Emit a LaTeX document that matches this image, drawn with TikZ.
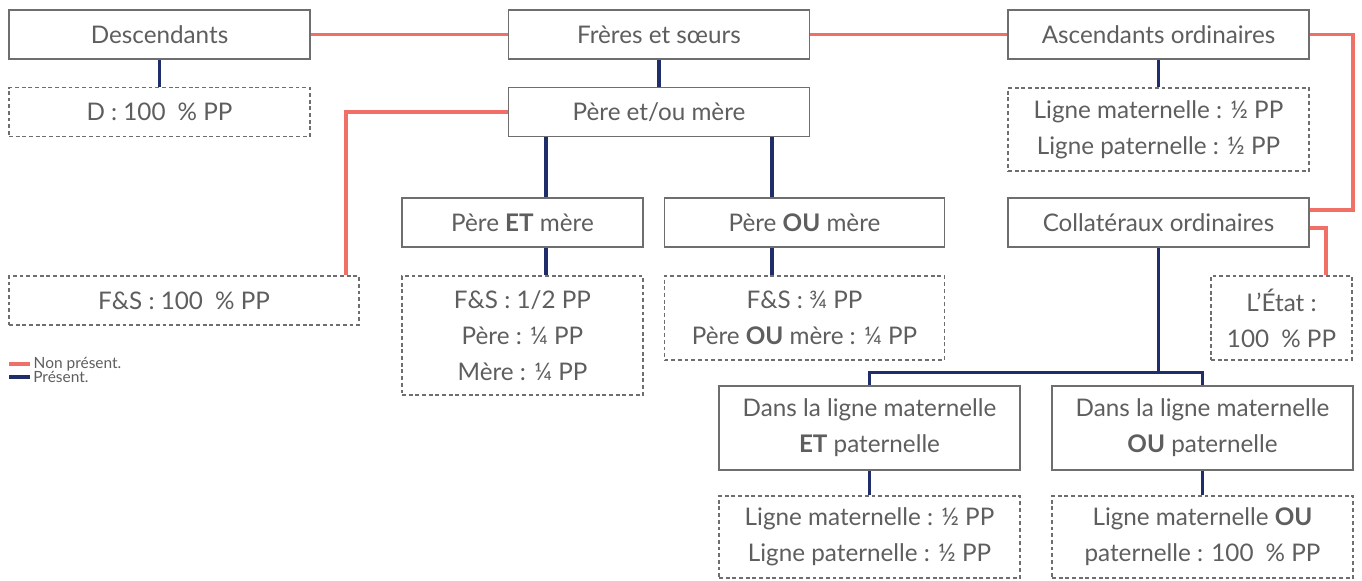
\documentclass[tikz,border=0pt]{standalone}
\usepackage{fontspec}
\setmainfont{Lato}
\usepackage{xcolor}
\usetikzlibrary{calc}
\definecolor{absentred}{HTML}{F07068}
\definecolor{presentblue}{HTML}{1F2D6B}
\definecolor{boxgray}{HTML}{6E6E6E}
\definecolor{textgray}{HTML}{5E5E5E}
\tikzset{
  box/.style={draw=boxgray, line width=0.8pt, fill=white, text=textgray, align=center,
    minimum width=6.02cm, minimum height=0.98cm, inner sep=0pt,
    font=\fontsize{13.8}{20.6}\selectfont},
  resbox/.style={box, dashed, dash pattern=on 2.2pt off 1.6pt},
  absent/.style={draw=absentred, line width=2.2pt},
  present/.style={draw=presentblue, line width=1.8pt},
  legend/.style={right, inner sep=1pt, text=textgray, font=\fontsize{8.8}{10}\selectfont},
}

\begin{document}
\begin{tikzpicture}[x=0.02cm, y=-0.02cm]
		%\draw[help lines] (0,0) grid (1362,581);
		\useasboundingbox (0,0) rectangle (1362,581);
		
		\node[box] (desc) at (159.5,34.5) {Descendants};
		\node[resbox] (descres) at (159.5,112) {D : 100\enspace\% PP};
		\node[box] (freres) at (659,34.5) {Frères et sœurs};
		\node[box] (parents) at (659,112) {Père et/ou mère};
		\node[box] (asc) at (1158.5,34.5) {Ascendants ordinaires};
		\node[resbox, minimum height=1.66cm] (ascres) at (1158.5,129.5) {Ligne maternelle : ½ PP\\Ligne paternelle : ½ PP};
		\node[box] (coll) at (1158.5,222.5) {Collatéraux ordinaires};
		\node[resbox, minimum width=2.82cm, minimum height=1.68cm] (etat) at (1281.5,318) {L’État :\\100\enspace\% PP};
		
		\node[resbox, minimum width=7cm] (fsres) at (184,300.5) {F\&S : 100\enspace\% PP};
		
		\node[box, minimum width=4.82cm] (peretmere) at (522.5,222.5) {Père \textbf{ET} mère};
		\node[box, minimum width=5.6cm] (pereoumere) at (804.5,222.5) {Père \textbf{OU} mère};
		\node[resbox, minimum width=4.82cm, minimum height=2.38cm] (etres) at (522.5,335.5) {F\&S : 1/2 PP\\Père : ¼ PP\\Mère : ¼ PP};
		\node[resbox, minimum width=5.6cm, minimum height=1.68cm] (oures) at (804.5,318) {F\&S : ¾ PP\\Père \textbf{OU} mère : ¼ PP};
		
		\node[box, minimum height=1.68cm] (ligneet) at (869.5,428) {Dans la ligne maternelle\\\textbf{ET} paternelle};
		\node[box, minimum height=1.68cm] (ligneou) at (1202.5,428) {Dans la ligne maternelle\\\textbf{OU} paternelle};
		\node[resbox, minimum height=1.64cm] (ligneetres) at (869.5,537) {Ligne maternelle : ½ PP\\Ligne paternelle : ½ PP};
		\node[resbox, minimum height=1.64cm] (ligneoures) at (1202.5,537) {Ligne maternelle \textbf{OU}\\paternelle : 100\enspace\% PP};
		
		%non present
		\draw[absent] (desc.east) -- (freres.west);
		\draw[absent] (freres.east) -- (asc.west);
		\draw[absent] (asc.east) -- ++(43,0) |- ([yshift=0.25cm]coll.east);
		\draw[absent] ([yshift=-0.11cm]coll.east) -| ([xshift=0.89cm]etat.north);
		\draw[absent] (parents.west) -| ([xshift=-0.28cm]fsres.north east);
		
		%present
		\draw[present] (desc) -- (descres);
		\draw[present] (freres) -- (parents);
		\draw[present] (asc) -- (ascres);
		\draw[present] ([xshift=0.47cm]peretmere.north) -- ([xshift=0.47cm]peretmere.north |- parents.south);
		\draw[present] ([xshift=0.47cm]peretmere.south) -- ([xshift=0.47cm]etres.north);
		\draw[present] ([xshift=-0.65cm]pereoumere.north) -- ([xshift=-0.65cm]pereoumere.north |- parents.south);
		\draw[present] ([xshift=-0.65cm]pereoumere.south) -- ([xshift=-0.65cm]oures.north);
		\draw[present] (coll.south) -- ++(0,125) coordinate (split);
		\draw[present] (ligneet.north) |- (split) -| (ligneou.north);
		\draw[present] (ligneet) -- (ligneetres);
		\draw[present] (ligneou) -- (ligneoures);
		
		%legend
		\draw[absent] (9,364) -- (30,364) node[legend] (lgabsent) {Non présent.};
		\draw[present] (9,377) -- (30,377) node[legend] (lgpresent) {Présent.};
		\end{tikzpicture}
\end{document}
